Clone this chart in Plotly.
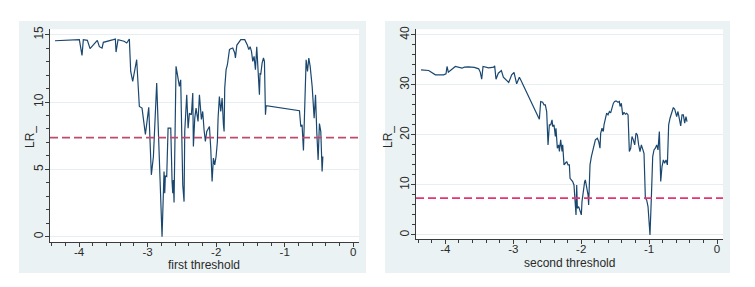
import plotly.graph_objects as go
from plotly.subplots import make_subplots

# ---------------- data ----------------
first_threshold = [-4.350, -3.995, -3.956, -3.937, -3.878, -3.839, -3.733, -3.703, -3.664, -3.645,
                   -3.499, -3.470, -3.460, -3.431, -3.343, -3.304, -3.266, -3.246, -3.217, -3.159,
                   -3.120, -3.081, -3.032, -2.983, -2.945, -2.915, -2.867, -2.789, -2.760, -2.750,
                   -2.741, -2.721, -2.701, -2.662, -2.643, -2.633, -2.624, -2.614, -2.585, -2.556,
                   -2.536, -2.517, -2.487, -2.468, -2.458, -2.429, -2.409, -2.390, -2.361, -2.341,
                   -2.332, -2.312, -2.293, -2.264, -2.244, -2.215, -2.196, -2.176, -2.157, -2.137,
                   -2.118, -2.098, -2.079, -2.059, -2.040, -2.021, -2.001, -1.982, -1.972, -1.953,
                   -1.933, -1.913, -1.894, -1.884, -1.875, -1.855, -1.836, -1.826, -1.806, -1.787,
                   -1.758, -1.729, -1.719, -1.699, -1.680, -1.661, -1.641, -1.583, -1.563, -1.544,
                   -1.524, -1.505, -1.485, -1.466, -1.447, -1.427, -1.408, -1.388, -1.379, -1.369,
                   -1.360, -1.350, -1.330, -1.310, -1.296, -1.281, -1.271, -0.785, -0.766, -0.747,
                   -0.727, -0.707, -0.688, -0.668, -0.649, -0.629, -0.600, -0.571, -0.551, -0.532,
                   -0.513, -0.494, -0.474, -0.455, -0.444]
lr_first = [14.55, 14.63, 13.46, 14.63, 14.58, 13.96, 14.58, 14.11, 14.01, 14.43,
            14.63, 14.68, 13.71, 14.63, 14.51, 14.38, 14.68, 12.27, 11.53, 13.14,
            9.67, 9.55, 7.59, 9.60, 4.59, 5.95, 11.41, 0.00, 4.84, 3.22,
            4.50, 4.46, 8.06, 8.06, 4.09, 3.22, 4.20, 2.53, 12.65, 11.65,
            11.16, 11.65, 3.84, 2.60, 7.81, 10.54, 8.06, 9.17, 9.05, 10.66,
            6.69, 8.80, 9.55, 8.55, 10.54, 8.70, 9.30, 7.90, 7.07, 7.81,
            8.06, 8.18, 6.57, 4.09, 5.83, 5.33, 5.95, 7.07, 8.80, 10.41,
            9.30, 10.29, 8.31, 7.81, 11.03, 12.40, 12.77, 13.27, 13.89, 13.96,
            14.01, 13.64, 13.27, 14.21, 14.38, 14.51, 14.63, 14.63, 14.43, 14.21,
            13.89, 14.11, 13.76, 13.02, 13.39, 12.40, 14.11, 12.27, 11.90, 10.54,
            12.15, 12.03, 12.89, 13.27, 13.02, 9.05, 9.72, 9.35, 8.18, 8.30,
            6.40, 11.16, 13.14, 12.27, 13.27, 12.65, 11.16, 8.80, 10.54, 7.69,
            5.70, 8.40, 7.81, 4.84, 5.95]

second_threshold = [-4.358, -4.245, -4.147, -4.025, -3.990, -3.975, -3.956, -3.853, -3.755, -3.720,
                    -3.660, -3.573, -3.509, -3.485, -3.465, -3.445, -3.362, -3.288, -3.274, -3.254,
                    -3.220, -3.175, -3.146, -3.117, -3.067, -3.023, -2.989, -2.950, -2.910, -2.891,
                    -2.631, -2.616, -2.596, -2.567, -2.547, -2.528, -2.508, -2.498, -2.488, -2.469,
                    -2.449, -2.429, -2.420, -2.400, -2.380, -2.371, -2.351, -2.331, -2.321, -2.302,
                    -2.282, -2.272, -2.253, -2.233, -2.213, -2.194, -2.174, -2.164, -2.145, -2.125,
                    -2.106, -2.086, -2.076, -2.066, -2.056, -2.037, -2.017, -1.998, -1.988, -1.968,
                    -1.949, -1.939, -1.919, -1.899, -1.890, -1.870, -1.850, -1.831, -1.811, -1.791,
                    -1.762, -1.742, -1.723, -1.713, -1.693, -1.674, -1.664, -1.644, -1.625, -1.605,
                    -1.585, -1.566, -1.546, -1.526, -1.507, -1.487, -1.458, -1.438, -1.428, -1.409,
                    -1.389, -1.369, -1.350, -1.330, -1.310, -1.291, -1.271, -1.252, -1.232, -1.212,
                    -1.193, -1.173, -1.154, -1.134, -1.114, -1.094, -1.075, -1.055, -1.036, -1.016,
                    -0.987, -0.967, -0.947, -0.928, -0.908, -0.888, -0.869, -0.849, -0.829, -0.810,
                    -0.790, -0.771, -0.751, -0.731, -0.712, -0.692, -0.673, -0.643, -0.623, -0.594,
                    -0.575, -0.555, -0.535, -0.515, -0.496, -0.476, -0.457, -0.442]
lr_second = [33.00, 32.87, 32.00, 32.00, 32.20, 33.67, 32.53, 33.67, 33.33, 33.53,
             33.60, 33.50, 33.20, 32.50, 31.13, 33.67, 33.40, 33.53, 33.80, 31.13,
             32.33, 32.87, 31.53, 31.13, 30.47, 32.00, 32.47, 30.20, 31.53, 31.00,
             23.53, 23.13, 26.67, 26.53, 26.00, 26.00, 24.67, 22.00, 18.00, 22.00,
             22.00, 23.00, 21.67, 22.00, 19.67, 21.33, 17.33, 18.00, 16.67, 19.00,
             16.67, 18.00, 14.00, 14.33, 14.67, 14.00, 14.00, 11.33, 11.00, 10.67,
             10.00, 4.67, 4.00, 10.00, 5.33, 5.67, 4.67, 4.00, 6.67, 9.33,
             10.67, 11.00, 9.33, 8.00, 6.00, 14.00, 15.67, 16.67, 17.67, 19.00,
             19.33, 18.67, 17.33, 20.33, 21.33, 20.67, 22.00, 23.67, 24.33, 24.00,
             24.67, 24.40, 25.33, 26.33, 26.67, 26.80, 26.53, 26.67, 25.67, 26.33,
             24.00, 24.53, 24.13, 24.33, 24.00, 16.67, 17.33, 19.67, 19.00, 18.00,
             20.33, 20.00, 18.00, 16.67, 18.00, 17.33, 16.33, 7.33, 7.00, 5.67,
             0.00, 7.33, 15.67, 17.00, 17.33, 18.00, 17.00, 20.67, 10.67, 13.67,
             15.00, 14.33, 15.00, 14.00, 22.00, 23.33, 24.00, 25.47, 25.13, 23.67,
             24.67, 23.33, 21.80, 24.00, 24.00, 22.33, 23.67, 22.67]

critical_value = 7.35
x_ticks = [-4, -3, -2, -1, 0]
x_tick_labels = ["-4", "-3", "-2", "-1", "0"]
y_ticks_first = [0, 5, 10, 15]
y_ticks_second = [0, 10, 20, 30, 40]
x_titles = ["first threshold", "second threshold"]
y_title = "LR_"

# ---------------- figure geometry ----------------
OFF = 8                      # default page body margin in the browser
W, H = 755 - OFF, 287 - OFF  # figure size that fits in the window


def px(xp):
    return (xp - OFF) / W


def py(yp):
    return 1 - (yp - OFF) / H


fig = make_subplots(rows=1, cols=2)

LINE = "#1a476f"
REGION = "#eaf2f3"
AX = "#3c3c3c"
TXT = "#2a2a2a"
FONT = "Liberation Sans, Arial, sans-serif"

fig.add_trace(go.Scatter(x=first_threshold, y=lr_first, mode="lines",
                         line=dict(color=LINE, width=1.2), showlegend=False), row=1, col=1)
fig.add_trace(go.Scatter(x=second_threshold, y=lr_second, mode="lines",
                         line=dict(color=LINE, width=1.2), showlegend=False), row=1, col=2)

# plot-area / graph-region pixel boxes
left_plot = (50, 359, 29.3, 242.3)
right_plot = (416, 723, 29.3, 239.3)

# outer graph regions (light bluish gray) and white plot regions
for (x0, x1), (a0, a1, b0, b1) in [((19, 366), left_plot), ((385, 730), right_plot)]:
    fig.add_shape(type="rect", xref="paper", yref="paper",
                  x0=px(x0), x1=px(x1), y0=py(273), y1=py(21),
                  fillcolor=REGION, line=dict(width=0), layer="below")
    fig.add_shape(type="rect", xref="paper", yref="paper",
                  x0=px(a0), x1=px(a1), y0=py(b1), y1=py(b0),
                  fillcolor="white", line=dict(width=0), layer="below")

# critical value dashed lines
fig.add_shape(type="line", xref="x domain", yref="y", x0=0, x1=1,
              y0=critical_value, y1=critical_value,
              line=dict(color="#c04a6c", width=1.8, dash="8px,4px"))
fig.add_shape(type="line", xref="x2 domain", yref="y2", x0=0, x1=1,
              y0=critical_value, y1=critical_value,
              line=dict(color="#e8336d", width=1.6, dash="8px,4px"))

common_x = dict(
    tickvals=x_ticks, ticktext=x_tick_labels, ticks="outside", ticklen=4, tickcolor=AX,
    tickwidth=1, showline=True, linecolor=AX, linewidth=1, showgrid=False, zeroline=False,
    tickfont=dict(family=FONT, size=11.5, color=TXT), automargin=False, ticklabelstandoff=-5,
    minor=dict(dtick=0.2, ticklen=3, tickcolor=AX, ticks="outside", showgrid=False),
)
common_y = dict(
    ticks="outside", ticklen=4, tickcolor=AX, tickwidth=1, tickangle=-90,
    showline=True, linecolor=AX, linewidth=1, showgrid=True, gridcolor="#e6eef1",
    gridwidth=1, zeroline=False, automargin=False, ticklabelstandoff=-3,
    tickfont=dict(family=FONT, size=12, color=TXT),
)

fig.update_layout(
    xaxis=dict(common_x, domain=[px(left_plot[0]), px(left_plot[1])], range=[-4.423, 0.083]),
    xaxis2=dict(common_x, domain=[px(right_plot[0]), px(right_plot[1])], range=[-4.432, 0.088]),
    yaxis=dict(common_y, domain=[py(left_plot[3]), py(left_plot[2])], range=[-0.42, 15.4],
               tickvals=y_ticks_first,
               minor=dict(dtick=1, ticklen=3, tickcolor=AX, ticks="outside", showgrid=False)),
    yaxis2=dict(common_y, domain=[py(right_plot[3]), py(right_plot[2])], range=[-0.87, 41.1],
                tickvals=y_ticks_second,
                minor=dict(dtick=2, ticklen=3, tickcolor=AX, ticks="outside", showgrid=False)),
    width=W, height=H,
    margin=dict(l=0, r=0, t=0, b=0, autoexpand=False),
    paper_bgcolor="white", plot_bgcolor="white",
    showlegend=False,
)

# axis titles
for xc, yc in [(30, 137), (388, 137)]:
    fig.add_annotation(text=y_title, xref="paper", yref="paper", x=px(xc), y=py(yc),
                       xanchor="center", yanchor="middle", showarrow=False, textangle=-90,
                       font=dict(family=FONT, size=12, color=TXT))
for title, xc, yc in [(x_titles[0], 204, 265), (x_titles[1], 569, 263)]:
    fig.add_annotation(text=title, xref="paper", yref="paper", x=px(xc), y=py(yc),
                       xanchor="center", yanchor="middle", showarrow=False,
                       font=dict(family=FONT, size=12, color=TXT))

fig.write_html("out.html")
